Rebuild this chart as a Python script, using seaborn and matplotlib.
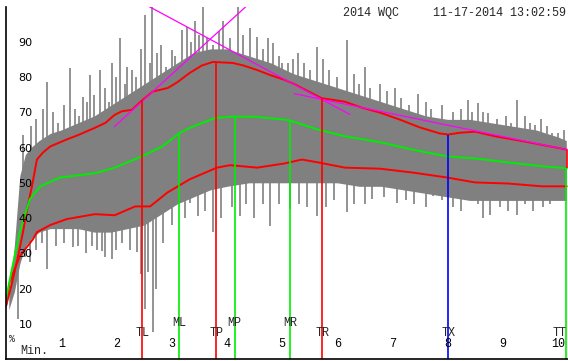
import numpy as np
import seaborn as sns
import matplotlib.pyplot as plt

# --- curves (time in minutes, value in %) ---
up_t = [0, 0.1, 0.2, 0.3, 0.4, 0.47, 0.56, 0.67, 0.8, 1.1, 1.3, 1.61, 1.8, 1.97, 2.1, 2.28,
        2.48, 2.66, 2.93, 3.1, 3.33, 3.55, 3.75, 4.11, 4.3, 4.55, 4.8, 5.05, 5.25, 5.42, 5.72,
        5.9, 6.14, 6.45, 6.78, 7.14, 7.5, 7.86, 8.01, 8.22, 8.5, 8.86, 9.4, 9.8, 10.16]
up_v = [15, 21, 27.8, 35.4, 43.9, 49, 56.6, 58.6, 60.3, 62.3, 63.5, 65.6, 67, 69.3, 70.3, 70.7,
        73.6, 75.9, 76.9, 78.5, 81.2, 83.3, 84.3, 84, 83.3, 82, 80.5, 79.2, 77.8, 76.4, 74,
        73.6, 73, 71.3, 69.9, 67.9, 65.7, 64, 63.7, 64.2, 64.5, 63.2, 61.7, 60.5, 59.4]

mid_t = [0, 0.1, 0.25, 0.43, 0.62, 0.98, 1.61, 1.97, 2.46, 2.83, 3.15, 3.33, 3.79, 4.11, 4.55,
         5.05, 5.14, 5.65, 6.14, 6.78, 7.37, 7.99, 8.5, 9.09, 9.71, 10.16]
mid_v = [17, 25, 36, 45.3, 49, 51.5, 52.7, 54.3, 57.5, 60.3, 64.2, 65.6, 68.4, 68.8, 68.7,
         67.9, 67.7, 65.1, 63.2, 61.5, 59.4, 57.5, 56.9, 55.8, 54.7, 54.1]

lo_t = [0, 0.07, 0.25, 0.49, 0.56, 0.8, 1.1, 1.61, 1.97, 2.34, 2.61, 2.93, 3.33, 3.82, 4.06,
        4.55, 5.05, 5.36, 5.65, 6.14, 6.78, 7.37, 7.99, 8.5, 9.09, 9.71, 10.16]
lo_v = [15, 22, 29.2, 34, 36, 38, 39.7, 41.1, 40.8, 43.3, 43.3, 47.3, 51, 54.3, 55,
        54.3, 55.5, 56.6, 55.8, 54.3, 54, 52.9, 51.5, 50.1, 49.8, 49, 49]

# gray raw trace: dense core band plus the excursions above and below it
band_t = [0.05, 0.15, 0.25, 0.35, 0.45, 0.6, 0.8, 1.0, 1.3, 1.6, 1.9, 2.2, 2.5, 2.8, 3.1, 3.4,
          3.7, 4.0, 4.4, 4.8, 5.2, 5.6, 6.0, 6.4, 6.8, 7.2, 7.6, 8.0, 8.4, 8.8, 9.2, 9.6, 10.0, 10.15]
band_hi = [18, 32, 52, 58, 60, 62, 64, 65, 67, 69, 72, 75, 78, 81, 84, 87,
           88, 88, 86, 84, 81, 79, 77, 75, 73, 71, 69, 68, 68, 67, 66, 65, 63, 62]
band_lo = [14, 19, 27, 32, 34, 36, 37, 37, 37, 36, 36, 37, 38, 41, 44, 46,
           48, 49, 50, 50, 50, 50, 50, 49, 49, 48, 47, 46, 45, 45, 45, 45, 45, 45]

spike_up_t = [0.31, 0.67, 0.74, 1.16, 1.4, 1.52, 1.7, 1.92, 2.07, 2.28, 2.52, 2.64, 2.74, 3.0,
              3.19, 3.28, 3.42, 3.57, 3.93, 4.2, 4.55, 4.84, 5.1, 5.29, 5.63, 6.18, 6.5, 6.78,
              7.05, 7.46, 8.37, 8.55, 8.73, 9.26, 9.58, 9.89,
              0.45, 0.55, 0.85, 0.95, 1.05, 1.25, 1.33, 1.47, 1.6, 1.8, 1.87, 2.0, 2.15, 2.2,
              2.35, 2.44, 2.6, 2.8, 2.9, 3.07, 3.35, 3.5, 3.65, 3.75, 3.85, 4.05, 4.3, 4.42,
              4.65, 4.75, 4.95, 5.0, 5.2, 5.4, 5.5, 5.75, 5.85, 6.0, 6.3, 6.4, 6.6, 6.9, 7.15,
              7.3, 7.6, 7.7, 7.9, 8.1, 8.25, 8.45, 8.65, 8.9, 9.05, 9.15, 9.4, 9.5, 9.7, 9.8,
              10.0, 10.1]
spike_up_v = [63.7, 71, 78.7, 82.6, 74.4, 80.6, 82, 84, 91, 82, 97.6, 100, 86.7, 87.7,
              93.4, 94.3, 96, 100, 96, 100, 91.5, 89.6, 83.9, 86.7, 88.6, 90.5, 83, 78,
              76.8, 75.3, 73.6, 72.6, 69.8, 73.6, 66.5, 64,
              66, 68, 70, 67, 72, 71, 69, 73, 75, 77, 73, 80, 78, 83,
              80, 88, 84, 89, 83, 86, 90, 92, 91, 89, 93, 91, 92, 94,
              88, 91, 86, 84, 85, 84, 82, 85, 82, 80, 81, 78, 77, 76, 74,
              72, 73, 71, 72, 70, 71, 70, 70, 68, 69, 67, 69, 67, 68, 66,
              64, 65]
spike_dn_t = [0.22, 0.43, 0.74, 1.21, 1.56, 1.74, 1.92, 2.37, 2.52, 2.57, 2.66, 3.15, 3.33,
              3.48, 3.75, 4.24, 4.78, 5.14, 5.63, 6.18, 6.63, 7.08, 7.74, 8.37, 8.77, 9.26, 9.73,
              0.35, 0.55, 0.65, 0.9, 1.05, 1.3, 1.45, 1.65, 1.8, 2.0, 2.1, 2.25, 2.45, 2.72,
              2.85, 3.0, 3.25, 3.6, 3.9, 4.1, 4.35, 4.5, 4.65, 4.95, 5.3, 5.45, 5.8, 5.95, 6.3,
              6.5, 6.85, 7.25, 7.4, 7.6, 7.9, 8.1, 8.25, 8.55, 8.65, 8.95, 9.1, 9.4, 9.55, 9.85,
              10.05]
spike_dn_v = [11.4, 27.5, 25.6, 31.7, 32, 30.6, 28.4, 30.3, 14.2, 24.7, 7.6, 46.2, 44.4,
              40.5, 36, 40.5, 37.7, 42.5, 40.5, 41.6, 45.3, 44.4, 46.2, 45.3, 41, 41, 43,
              29, 31, 33, 32, 33, 32, 30, 31, 29, 31, 33, 31, 24, 20,
              33, 38, 40, 42, 40, 43, 44, 40, 44, 44, 44, 43, 43, 45, 44,
              44, 46, 45, 44, 43, 45, 43, 42, 44, 40, 43, 42, 44, 42, 44,
              45]

# tangent lines (two end points each)
tan_t = [[1.96, 4.36], [2.57, 6.23], [5.22, 10.16]]
tan_v = [[65.9, 100.2], [100.2, 69.4], [75.3, 59.4]]

# event markers
mk_names = ["TL", "ML", "TP", "MP", "MR", "TR", "TX", "TT"]
mk_t = [2.47, 3.13, 3.81, 4.14, 5.15, 5.73, 8.01, 10.15]
mk_top = [73.6, 64.2, 84.3, 68.8, 67.7, 74.0, 63.7, 54.1]
mk_colors = ["#ff0000", "#00ee00", "#ff0000", "#00ee00", "#00ee00", "#ff0000", "#0000ff", "#00ee00"]
mk_row = [0, 1, 0, 1, 1, 0, 0, 0]

x_ticks = [1, 2, 3, 4, 5, 6, 7, 8, 9, 10]
y_ticks = [10, 20, 30, 40, 50, 60, 70, 80, 90, 100]
y_labels = ["10", "20", "30", "40", "50", "60", "70", "80", "90", ""]

sns.set_style("white")
plt.rcParams["font.family"] = ["DejaVu Sans"]
mono = "Liberation Mono"

fig = plt.figure(figsize=(5.68, 3.61), dpi=100)
ax = fig.add_axes([6 / 568, 2 / 361, 562 / 568, 352.4 / 361])

gray = "#808080"
ax.fill_between(band_t, band_lo, band_hi, color=gray, lw=0, zorder=1)
ax.vlines(spike_up_t, np.interp(spike_up_t, band_t, band_hi) - 3, spike_up_v, color=gray, lw=1.2, zorder=1)
ax.vlines(spike_dn_t, spike_dn_v, np.interp(spike_dn_t, band_t, band_lo) + 3, color=gray, lw=1.2, zorder=1)

sns.lineplot(x=up_t, y=up_v, color="#ff0000", lw=1.4, ax=ax, zorder=3)
sns.lineplot(x=lo_t, y=lo_v, color="#ff0000", lw=1.4, ax=ax, zorder=3)
sns.lineplot(x=mid_t, y=mid_v, color="#00ee00", lw=1.4, ax=ax, zorder=3)
ax.vlines(up_t[-1], mid_v[-1], up_v[-1], color="#ff0000", lw=1.2, zorder=3)

for tt, vv in zip(tan_t, tan_v):
    ax.plot(tt, vv, color="#ff00ff", lw=0.9, zorder=4)

for name, t, top, c, row in zip(mk_names, mk_t, mk_top, mk_colors, mk_row):
    ax.vlines(t, 0, top, color=c, lw=1.2, zorder=4)
    ax.text(t, 10.3 if row else 7.5, name, ha="right" if name == "TT" else "center",
            va="center", fontsize=8.5, family=mono, zorder=5)

ax.set_xlim(0, 562 / 55.2)
ax.set_ylim(0, 100)
sns.despine(ax=ax, top=True, right=True)
for s in ["left", "bottom"]:
    ax.spines[s].set_color("black")
    ax.spines[s].set_linewidth(1.2)
    ax.spines[s].set_zorder(6)

ax.set_xticks(x_ticks)
ax.set_xticklabels([str(v) for v in x_ticks], family=mono, fontsize=8.5)
ax.tick_params(axis="x", direction="in", length=5, width=1, pad=-15, colors="black")
ax.set_yticks(y_ticks)
ax.set_yticklabels(y_labels, fontsize=8)
ax.tick_params(axis="y", direction="in", length=6, width=1, pad=-9, colors="black")
plt.setp(ax.get_yticklabels(), ha="left")
ax.xaxis.set_zorder(6)
ax.yaxis.set_zorder(6)

ax.text(0.11, 5.8, "%", ha="center", va="center", fontsize=7, family=mono)
ax.text(0.26, 2.4, "Min.", ha="left", va="center", fontsize=8.5, family=mono)

fig.text(343 / 568, 1 - 13 / 361, "2014 WQC", ha="left", va="center", fontsize=8.5, family=mono)
fig.text(566 / 568, 1 - 13 / 361, "11-17-2014 13:02:59", ha="right", va="center", fontsize=8.5, family=mono)

fig.savefig("out.png", dpi=100)
